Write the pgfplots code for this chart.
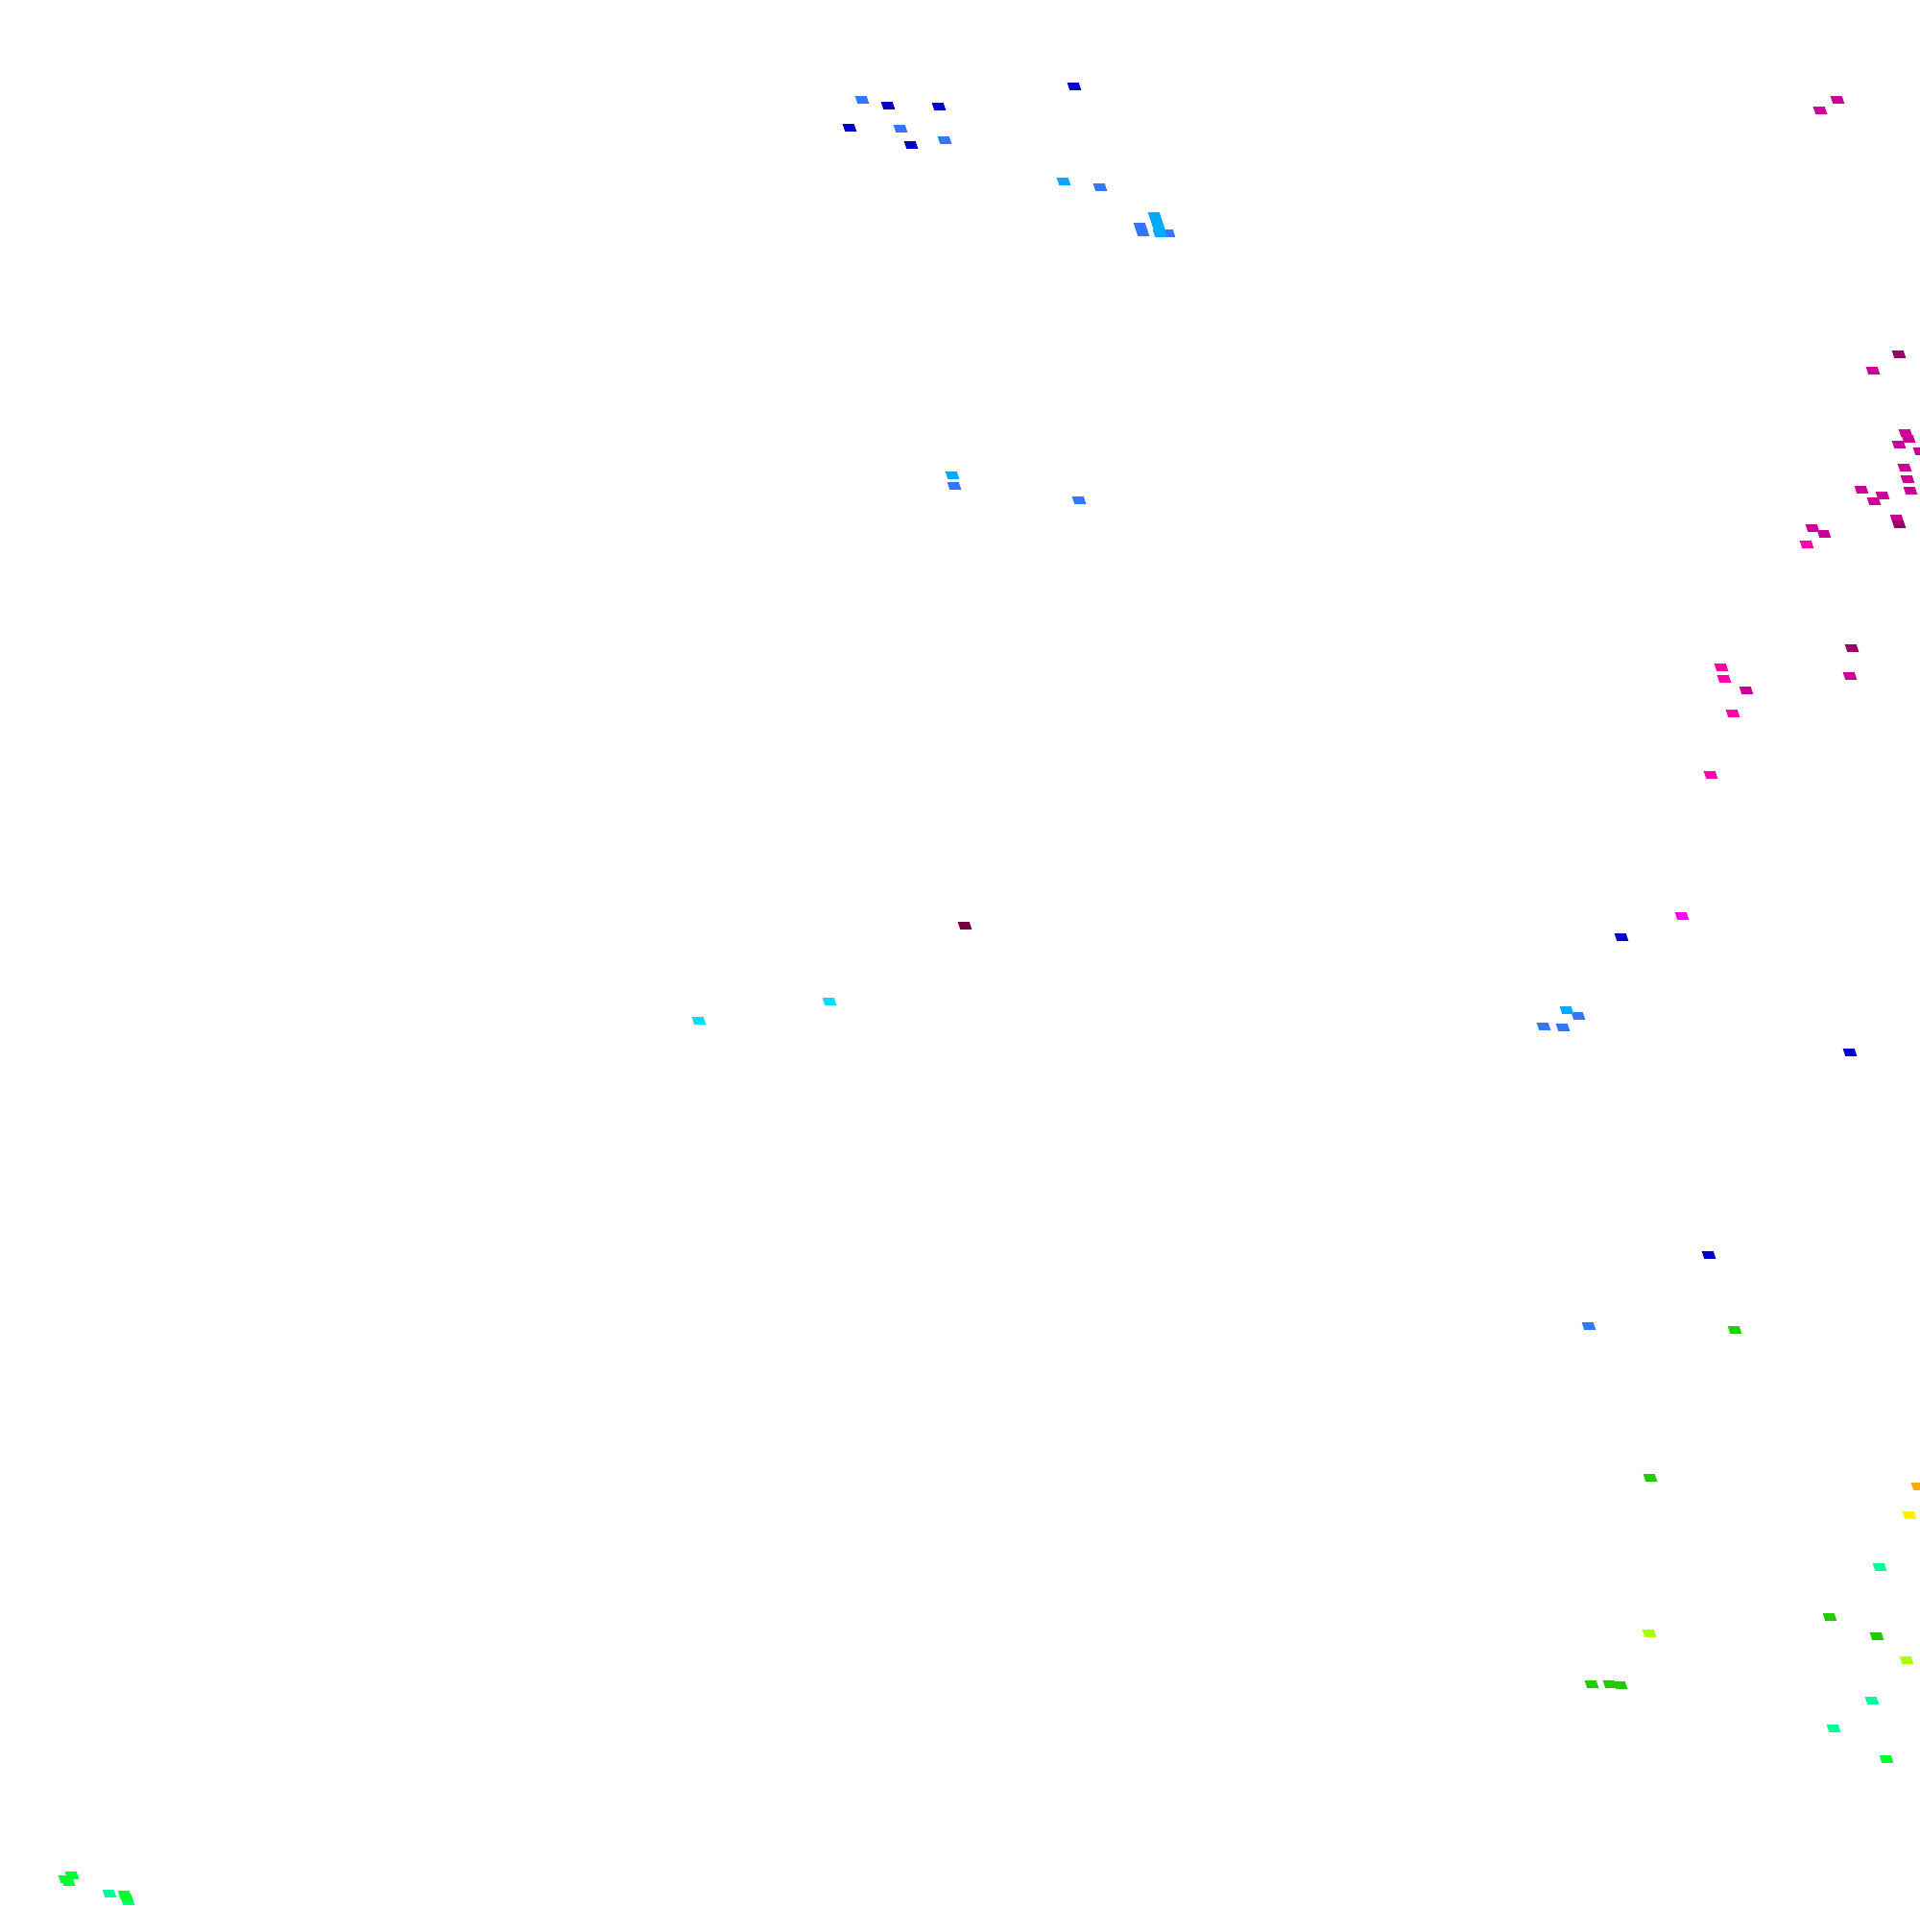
\documentclass[border=0pt]{standalone}
\usepackage{pgfplots}
\pgfplotsset{compat=1.18}
\definecolor{cA}{HTML}{0000C8}
\definecolor{cB}{HTML}{3377FF}
\definecolor{cC}{HTML}{00AAFF}
\definecolor{cD}{HTML}{00DDFF}
\definecolor{cE}{HTML}{00FF99}
\definecolor{cF}{HTML}{00FF33}
\definecolor{cG}{HTML}{22CC00}
\definecolor{cH}{HTML}{AAFF00}
\definecolor{cI}{HTML}{FFEE00}
\definecolor{cJ}{HTML}{FFAA00}
\definecolor{cK}{HTML}{FF00FF}
\definecolor{cL}{HTML}{FF00AA}
\definecolor{cM}{HTML}{CC0099}
\definecolor{cN}{HTML}{990066}
\definecolor{cO}{HTML}{770044}
\begin{document}
\begin{tikzpicture}
\begin{axis}[
  scale only axis, width=500pt, height=503pt,
  xmin=0, xmax=2000, ymin=0, ymax=2012, y dir=reverse,
  hide axis, clip=false,
  every axis plot/.append style={only marks, mark=square*, mark size=1pt,
    mark options={xscale=1.3, yscale=0.78, xslant=-0.2, draw=none}},
]
% dark blue
\addplot[cA] coordinates {(925,110) (978,111) (1119,90) (885,133) (949,151) (1689,976) (1927,1096) (1780,1307)};
% light blue
\addplot[cB] coordinates {(898,104) (938,134) (984,146) (1146,195) (1188,236) (1190,242) (1217,243) (994,506) (1124,521) (1644,1058) (1608,1069) (1628,1070) (1655,1381)};
% sky blue
\addplot[cC] coordinates {(1108,189) (1203,225) (1205,231) (1207,237) (1208,243) (992,495) (1632,1052)};
% cyan
\addplot[cD] coordinates {(864,1043) (728,1063)};
% spring green
\addplot[cE] coordinates {(1958,1632) (1950,1771) (1910,1800) (114,1972) (133,1980)};
% bright green
\addplot[cF] coordinates {(1965,1832) (75,1953) (68,1957) (71,1960) (130,1973) (132,1977)};
% green
\addplot[cG] coordinates {(1807,1385) (1719,1539) (1906,1684) (1955,1704) (1658,1754) (1677,1754) (1688,1755)};
% yellow-green
\addplot[cH] coordinates {(1986,1729) (1718,1701)};
% yellow
\addplot[cI] coordinates {(1989,1578)};
% orange
\addplot[cJ] coordinates {(1998,1548)};
% magenta
\addplot[cK] coordinates {(1752,954)};
% pink
\addplot[cL] coordinates {(1882,567) (1793,695) (1796,707) (1805,743) (1782,807)};
% medium magenta
\addplot[cM] coordinates {(1914,104) (1896,115) (1951,386) (1985,451) (1988,457) (1978,463) (2000,470) (1984,487) (1987,499) (1990,511) (1939,510) (1961,516) (1952,522) (1976,540) (1888,550) (1900,556) (1927,704) (1819,719)};
% dark magenta
\addplot[cN] coordinates {(1978,369) (1978,546) (1929,675)};
% maroon
\addplot[cO] coordinates {(1005,964)};
\end{axis}
\pgfresetboundingbox
\path[use as bounding box] (current axis.south west) rectangle (current axis.north east);
\end{tikzpicture}
\end{document}
